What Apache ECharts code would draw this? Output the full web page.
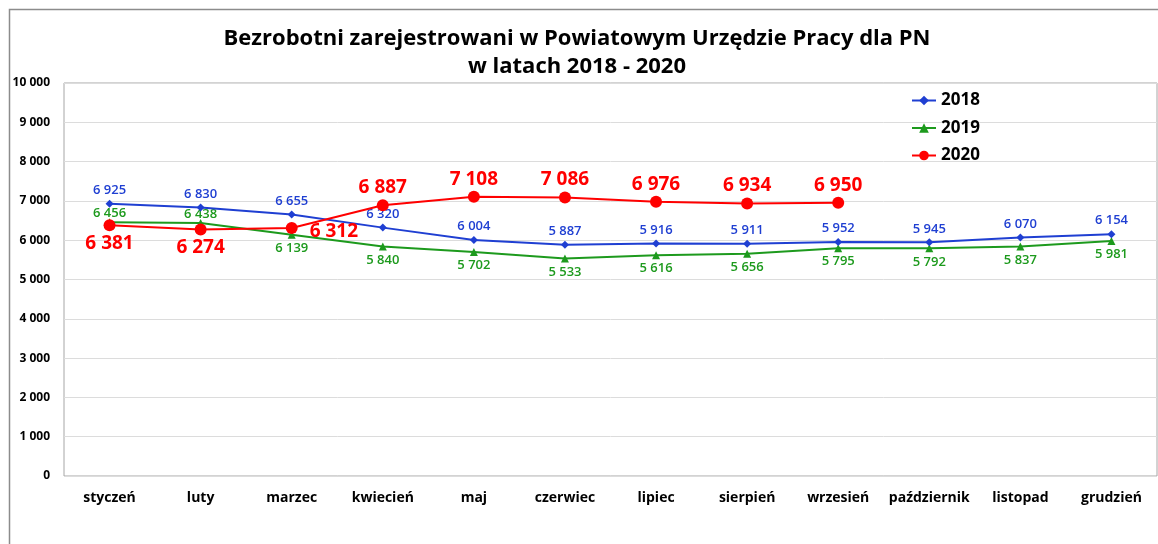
<!DOCTYPE html>
<html>
<head>
<meta charset="utf-8">
<script src="https://cdn.jsdelivr.net/npm/echarts@6/dist/echarts.min.js"></script>
<style>
  html, body { margin: 0; padding: 0; background: #fff; }
  #chart { width: 1158px; height: 544px; }
</style>
</head>
<body>
<div id="chart"></div>
<script>
const months = ['styczeń', 'luty', 'marzec', 'kwiecień', 'maj', 'czerwiec', 'lipiec', 'sierpień', 'wrzesień', 'październik', 'listopad', 'grudzień']
const values2018 = [6925, 6830, 6655, 6320, 6004, 5887, 5916, 5911, 5952, 5945, 6070, 6154]
const values2019 = [6456, 6438, 6139, 5840, 5702, 5533, 5616, 5656, 5795, 5792, 5837, 5981]
const values2020 = [6381, 6274, 6312, 6887, 7108, 7086, 6976, 6934, 6950]
// where each label sits relative to its point
const pos2019 = ['top', 'top', 'bottom', 'bottom', 'bottom', 'bottom', 'bottom', 'bottom', 'bottom', 'bottom', 'bottom', 'bottom']
const pos2020 = ['bottom', 'bottom', 'right', 'top', 'top', 'top', 'top', 'top', 'top']

const FONT = '"Open Sans", "DejaVu Sans", sans-serif'
const fmt = v => String(v).replace(/\B(?=(\d{3})+(?!\d))/g, ' ')

const BLUE = '#1f3fd2'
const GREEN = '#1d9a1d'
const RED = '#ff0000'

const chart = echarts.init(document.getElementById('chart'))

const withPos = (vals, pos, dist) => vals.map((v, i) => ({
  value: v,
  label: { position: pos[i], distance: dist[pos[i]], offset: pos[i] === 'right' ? [0, 4] : [0, 0] }
}))

chart.setOption({
  animation: false,
  textStyle: { fontFamily: FONT },
  title: {
    text: 'Bezrobotni zarejestrowani w Powiatowym Urzędzie Pracy dla PN\nw latach 2018 - 2020',
    left: 572,
    textAlign: 'center',
    top: 20,
    textStyle: { fontSize: 22, fontWeight: 'bold', color: '#000', lineHeight: 28, fontFamily: FONT }
  },
  graphic: [{
    type: 'rect',
    shape: { x: 9.5, y: 9.5, width: 1200, height: 600 },
    style: { fill: 'none', stroke: '#8c8c8c', lineWidth: 1.5 },
    silent: true
  }],
  legend: {
    orient: 'vertical',
    left: 906,
    top: 87,
    itemWidth: 24,
    itemHeight: 12,
    itemGap: 10.5,
    textStyle: { fontSize: 17, fontWeight: 'bold', color: '#000', fontFamily: FONT },
    data: ['2018', '2019', '2020']
  },
  grid: {
    left: 64, right: 1, top: 83, bottom: 68,
    show: true, borderColor: '#a6a6a6', borderWidth: 1
  },
  xAxis: {
    type: 'category',
    data: months,
    axisLine: { show: false },
    axisTick: { show: false },
    axisLabel: { interval: 0, fontSize: 14, fontWeight: 'bold', color: '#000', margin: 15, fontFamily: FONT }
  },
  yAxis: {
    type: 'value',
    min: 0, max: 10000, interval: 1000,
    axisLine: { show: false },
    axisTick: { show: false },
    splitLine: { lineStyle: { color: '#dcdcdc', width: 1 } },
    axisLabel: { fontSize: 12, fontWeight: 'bold', color: '#000', margin: 14, formatter: fmt, fontFamily: FONT }
  },
  series: [
    {
      name: '2018', type: 'line', data: values2018,
      symbol: 'diamond', symbolSize: 8,
      itemStyle: { color: BLUE }, lineStyle: { color: BLUE, width: 2 },
      label: { show: true, position: 'top', distance: 3, color: BLUE, fontSize: 13, fontWeight: 600, formatter: p => fmt(p.value), fontFamily: FONT },
      z: 3
    },
    {
      name: '2019', type: 'line', data: withPos(values2019, pos2019, { top: -2, bottom: 3 }),
      symbol: 'triangle', symbolSize: 8,
      itemStyle: { color: GREEN }, lineStyle: { color: GREEN, width: 2 },
      label: { show: true, color: GREEN, fontSize: 13, fontWeight: 600, formatter: p => fmt(p.value), fontFamily: FONT },
      z: 2
    },
    {
      name: '2020', type: 'line', data: withPos(values2020, pos2020, { top: 2, bottom: 3, right: 12 }),
      symbol: 'circle', symbolSize: 12,
      itemStyle: { color: RED }, lineStyle: { color: RED, width: 2 },
      label: { show: true, color: RED, fontSize: 19, fontWeight: 'bold', formatter: p => fmt(p.value), fontFamily: FONT },
      z: 4
    }
  ]
})
</script>
</body>
</html>
